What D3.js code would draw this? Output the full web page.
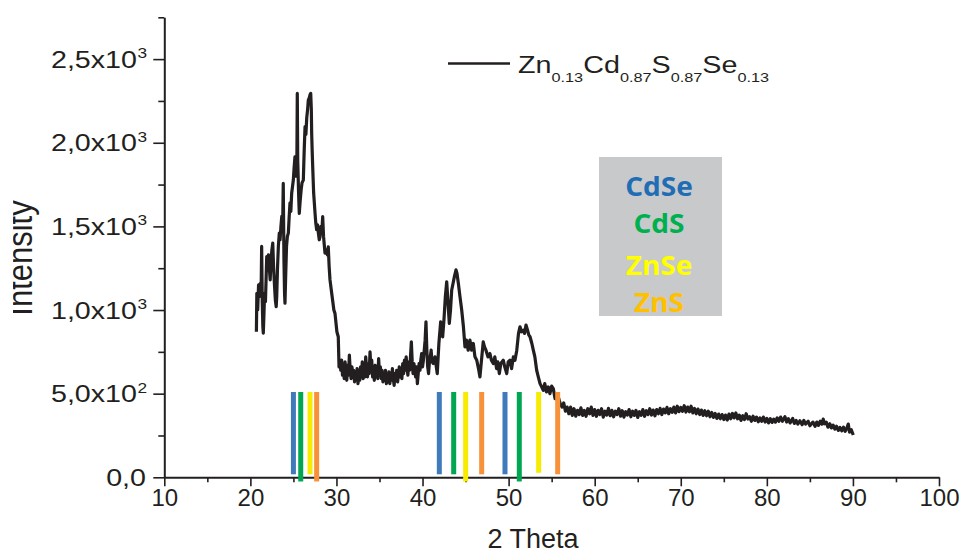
<!DOCTYPE html>
<html><head><meta charset="utf-8">
<script src="https://cdn.jsdelivr.net/npm/d3@7/dist/d3.min.js"></script>
<style>
html,body{margin:0;padding:0;background:#fff;}
svg{display:block;font-family:"Liberation Sans",Arial,sans-serif;}
</style></head>
<body>
<svg id="chart" width="963" height="555"></svg>
<script>
// ---- data ----
const xTicks = [10,20,30,40,50,60,70,80,90,100];
const yTicks = [0,500,1000,1500,2000,2500];
const yTickMant = ["0,0","5,0x10","1,0x10","1,5x10","2,0x10","2,5x10"];
const yTickExp  = ["","2","3","3","3","3"];
const seriesName = ["Zn","0.13","Cd","0.87","S","0.87","Se","0.13"];

const phases = ["CdSe","CdS","ZnSe","ZnS"];
const phaseColors = ["#3f7bba","#00a651","#f7ec00","#f7923a"];
const phaseTextColors = ["#1f6db5","#00b04f","#ffff00","#ffc000"];
const peaksCdSe = [25.0, 41.95, 49.58];
const peaksCdS  = [25.85, 43.62, 51.24];
const peaksZnSe = [26.93, 45.01, 53.49];
const peaksZnS  = [27.7, 46.87, 55.70];
const lowCdSe = [18, 18, 18];
const lowCdS  = [-25, 18, -25];
const lowZnSe = [18, -25, 27];
const lowZnS  = [-25, 18, 18];
const peakTop = 510;

const xrdPattern = [
[20.70,870],[20.75,1100],[20.85,1000],[20.95,1150],[21.05,1080],[21.15,1160],[21.25,1120],[21.31,1380],[21.38,1050],[21.45,900],
[21.50,862],[21.58,980],[21.65,1100],[21.75,1050],[21.90,1320],[22.00,1280],[22.10,1330],[22.20,1250],[22.30,1180],[22.40,1300],
[22.50,1360],[22.60,1400],[22.70,1250],[22.80,1150],[22.90,1060],[23.00,1020],[23.06,1080],[23.15,1250],[23.25,1380],[23.36,1460],
[23.45,1420],[23.55,1500],[23.65,1560],[23.75,1500],[23.82,1757],[23.90,1300],[23.97,1100],[24.02,1041],[24.10,1200],[24.20,1380],
[24.30,1440],[24.41,1460],[24.50,1550],[24.60,1640],[24.70,1590],[24.80,1700],[24.90,1740],[24.99,1777],[25.08,1850],[25.18,1916],
[25.30,1800],[25.40,1880],[25.45,2295],[25.50,1900],[25.60,1700],[25.68,1578],[25.78,1650],[25.90,1720],[26.00,1760],[26.15,1777],
[26.25,1950],[26.35,2096],[26.45,2050],[26.55,2150],[26.65,2200],[26.73,2255],[26.85,2270],[26.95,2290],[27.01,2295],[27.08,2200],
[27.12,2058],[27.18,1950],[27.24,1857],[27.35,1700],[27.51,1580],[27.60,1520],[27.70,1480],[27.80,1510],[27.90,1460],[28.00,1420],
[28.09,1438],[28.20,1500],[28.30,1460],[28.40,1558],[28.50,1440],[28.60,1380],[28.67,1340],[28.80,1360],[28.95,1330],[29.05,1378],
[29.15,1260],[29.25,1180],[29.40,1120],[29.55,1060],[29.70,1000],[29.83,980],[29.95,920],[30.05,870],[30.21,840],[30.30,660],
[30.40,700],[30.50,640],[30.60,700],[30.70,610],[30.80,660],[30.90,590],[31.00,690],[31.10,620],[31.20,580],[31.30,670],
[31.40,610],[31.50,730],[31.60,640],[31.70,590],[31.80,660],[31.90,600],[32.00,640],[32.10,570],[32.20,630],[32.30,590],
[32.40,650],[32.50,560],[32.60,610],[32.70,580],[32.80,660],[32.90,600],[33.00,690],[33.10,590],[33.20,640],[33.30,600],
[33.40,720],[33.50,650],[33.60,600],[33.70,680],[33.80,620],[33.90,750],[34.00,650],[34.10,700],[34.20,600],[34.30,640],
[34.40,580],[34.50,670],[34.60,610],[34.70,650],[34.80,590],[34.90,710],[35.00,620],[35.10,660],[35.20,590],[35.30,640],
[35.40,570],[35.50,620],[35.60,580],[35.70,640],[35.80,560],[35.90,600],[36.00,570],[36.10,630],[36.20,560],[36.30,610],
[36.40,580],[36.50,650],[36.60,590],[36.70,550],[36.80,620],[36.90,580],[37.00,640],[37.10,570],[37.20,610],[37.30,660],
[37.40,600],[37.50,650],[37.60,590],[37.70,680],[37.80,620],[37.90,700],[38.00,640],[38.10,720],[38.20,650],[38.30,610],
[38.40,690],[38.50,640],[38.60,720],[38.70,810],[38.80,690],[38.90,620],[39.00,680],[39.10,640],[39.20,600],[39.30,660],
[39.40,560],[39.50,620],[39.60,680],[39.70,640],[39.80,700],[39.90,740],[40.00,660],[40.10,700],[40.20,760],[40.30,820],
[40.40,930],[40.50,760],[40.60,660],[40.70,620],[40.80,690],[40.90,720],[41.00,760],[41.10,690],[41.25,680],[41.45,720],
[41.60,660],[41.71,620],[41.90,800],
[42.11,930],[42.25,880],[42.34,840],[42.50,950],[42.65,1080],[42.81,1169],[42.95,1050],[43.11,920],[43.25,1000],[43.39,1120],
[43.55,1160],[43.70,1200],[43.89,1240],[44.00,1220],[44.16,1160],[44.35,1080],[44.55,1000],[44.75,900],[44.93,780],[45.10,820],
[45.30,760],[45.51,820],[45.70,760],[45.90,800],[46.09,720],[46.30,700],[46.50,650],[46.67,600],[46.85,700],[47.05,810],
[47.20,780],[47.37,760],[47.60,720],[47.83,740],[48.00,700],[48.22,680],[48.40,720],[48.60,650],[48.75,690],[48.92,620],
[49.10,680],[49.38,700],[49.55,660],[49.78,620],[49.95,690],[50.16,700],[50.35,650],[50.55,720],[50.74,700],[50.95,760],
[51.15,860],[51.32,900],[51.50,870],[51.71,880],[51.85,860],[52.02,910],[52.20,880],[52.35,850],[52.49,840],[52.70,800],
[52.87,760],[53.05,720],[53.26,640],[53.45,600],[53.65,560],[53.85,540],[54.03,520],[54.20,560],[54.40,510],[54.61,540],
[54.80,500],[55.00,545],[55.19,530],[55.40,470],[55.60,500],[55.77,480],[56.00,440],[56.20,420],[56.40,445],[56.60,395],
[56.80,420],[57.00,380],[57.20,420],[57.40,370],[57.60,410],[57.80,365],[58.00,400],[58.20,375],[58.40,415],[58.60,370],
[58.80,400],[59.00,365],[59.20,410],[59.40,380],[59.60,420],[59.80,370],[60.00,405],[60.20,365],[60.40,400],[60.60,375],
[60.80,410],[61.00,360],[61.20,395],[61.40,372],[61.60,412],[61.80,368],[62.00,400],[62.20,362],[62.40,395],[62.60,375],
[62.80,410],[63.00,365],[63.20,398],[63.40,360],[63.60,392],[63.80,372],[64.00,405],[64.20,362],[64.40,395],[64.60,370],
[64.80,400],[65.00,358],[65.20,392],[65.40,370],[65.60,405],[65.80,365],[66.00,398],[66.20,375],[66.40,410],[66.60,372],
[66.80,402],[67.00,368],[67.20,405],[67.40,380],[67.60,412],[67.80,375],[68.00,408],[68.20,385],[68.40,418],[68.60,380],
[68.80,410],[69.00,388],[69.20,420],[69.40,385],[69.60,425],[69.80,392],[70.00,418],[70.20,395],[70.40,428],[70.60,390],
[70.80,420],[71.00,392],[71.20,425],[71.40,385],[71.60,412],[71.80,380],[72.00,408],[72.20,375],[72.40,402],[72.60,370],
[72.80,398],[73.00,368],[73.20,395],[73.40,362],[73.60,388],[73.80,358],[74.00,382],[74.20,352],[74.40,378],[74.60,350],
[74.80,375],[75.00,345],[75.20,372],[75.40,342],[75.60,378],[75.80,350],[76.00,382],[76.20,355],[76.40,385],[76.60,350],
[76.80,372],[77.00,340],[77.20,368],[77.40,345],[77.60,380],[77.80,348],[78.00,362],[78.20,335],[78.40,365],[78.60,340],
[78.80,360],[79.00,332],[79.20,355],[79.40,335],[79.60,360],[79.80,330],[80.00,352],[80.20,325],[80.40,350],[80.60,328],
[80.80,348],[81.00,330],[81.20,355],[81.40,335],[81.60,360],[81.80,335],[82.10,362],[82.30,330],[82.50,350],[82.70,325],
[83.00,352],[83.20,322],[83.40,340],[83.60,318],[83.84,338],[84.10,315],[84.30,340],[84.50,318],[84.80,335],[85.00,308],
[85.35,330],[85.60,305],[85.80,330],[86.00,310],[86.20,335],[86.40,318],[86.55,348],[86.70,320],[86.90,330],[87.10,300],
[87.32,320],[87.50,295],[87.70,312],[87.90,288],[88.10,305],[88.30,280],[88.49,298],[88.70,278],[88.90,300],[89.10,275],
[89.30,295],[89.46,318],[89.60,270],[89.80,285],[90.04,253]
];

// ---- chart ----
const svg = d3.select("#chart");
const x = d3.scaleLinear().domain([10,100]).range([164.3,939]);
const y = d3.scaleLinear().domain([0,2750]).range([477.3,17.3]);

svg.append("defs").append("clipPath").attr("id","leftclip")
  .append("rect").attr("x",13).attr("y",0).attr("width",950).attr("height",555);

// y axis
const yAxisMinor = d3.axisLeft(y).tickValues(d3.range(250,2751,500)).tickSize(6).tickFormat("");
const gyMinor = svg.append("g").attr("transform","translate(164.3,0)").call(yAxisMinor);
gyMinor.select(".domain").remove();
const yAxis = d3.axisLeft(y).tickValues(yTicks).tickSize(11).tickSizeOuter(0).tickFormat("");
const gy = svg.append("g").attr("transform","translate(164.3,0)").call(yAxis);
gy.select(".domain").attr("stroke","#231f20").attr("stroke-width",2);

// y tick labels
yTicks.forEach((v,i)=>{
  const g = svg.append("g").attr("transform",`translate(${yTickExp[i]? 137:146},${y(v)+8.5}) scale(1.17,1)`);
  g.append("text").attr("text-anchor","end").attr("font-size",24.5).attr("fill","#231f20").text(yTickMant[i]);
  if (yTickExp[i]) {
    svg.append("g").attr("transform",`translate(137.5,${y(v)-1}) scale(1.15,1)`)
      .append("text").attr("font-size",15).attr("fill","#231f20").text(yTickExp[i]);
  }
});

// x axis
const xAxisMinor = d3.axisBottom(x).tickValues(d3.range(15,100,10)).tickSize(5).tickFormat("");
const gxMinor = svg.append("g").attr("transform","translate(0,477.3)").call(xAxisMinor);
gxMinor.select(".domain").remove();
const xAxis = d3.axisBottom(x).tickValues(xTicks).tickSize(9).tickSizeOuter(0).tickFormat(d3.format("d"));
const gx = svg.append("g").attr("transform","translate(0,477.3)").call(xAxis);
gx.select(".domain").attr("stroke","#231f20").attr("stroke-width",2);
svg.selectAll(".tick line").attr("stroke","#231f20").attr("stroke-width",1.6);
gx.selectAll(".tick text").attr("font-size",24).attr("fill","#231f20").attr("y",12).attr("dy","0.71em")
  .attr("font-family","'Liberation Sans',Arial,sans-serif");

// axis titles
svg.append("text").attr("x",533).attr("y",548).attr("text-anchor","middle")
  .attr("font-size",27).attr("fill","#231f20").text("2 Theta");
svg.append("g").attr("clip-path","url(#leftclip)")
  .append("text").attr("transform","translate(32,258) scale(1.15,1) rotate(-90)").attr("text-anchor","middle")
  .attr("font-size",31).attr("fill","#231f20").text("Intensity");

// pattern line
const line = d3.line().x(d=>x(d[0])).y(d=>y(d[1]));
svg.append("path").datum(xrdPattern).attr("d",line)
  .attr("fill","none").attr("stroke","#231f20").attr("stroke-width",3.2).attr("stroke-linejoin","round");

// reference bars
const peakSets = [peaksCdSe,peaksCdS,peaksZnSe,peaksZnS];
const lowSets = [lowCdSe,lowCdS,lowZnSe,lowZnS];
phases.forEach((p,i)=>{
  svg.append("g").selectAll("rect").data(peakSets[i]).join("rect")
    .attr("x",(d)=>x(d)-2.5).attr("width",5)
    .attr("y",y(peakTop)).attr("height",(d,j)=>y(lowSets[i][j])-y(peakTop))
    .attr("fill",phaseColors[i]);
});

// legend
svg.append("line").attr("x1",448).attr("x2",510).attr("y1",63.5).attr("y2",63.5)
  .attr("stroke","#231f20").attr("stroke-width",2.5);
const lg = svg.append("g").attr("transform","translate(518,73.3) scale(1.25,1)");
const lt = lg.append("text").attr("font-size",23).attr("fill","#231f20");
seriesName.forEach((s,i)=>{
  if (i%2===0) lt.append("tspan").attr("font-size",23).attr("dy", i===0?0:-8.4).text(s);
  else lt.append("tspan").attr("font-size",13).attr("dy",8.4).text(s);
});

// phase box
svg.append("rect").attr("x",599).attr("y",157).attr("width",123).attr("height",159).attr("fill","#c8c9cb");
const boxY = [196,233,275,312];
phases.forEach((p,i)=>{
  svg.append("g").attr("transform",`translate(659,${boxY[i]}) scale(1.08,1)`)
    .append("text").attr("text-anchor","middle")
    .attr("font-family","'Open Sans',sans-serif").attr("font-weight","bold").attr("font-size",26)
    .attr("fill",phaseTextColors[i]).text(p);
});
</script>
</body></html>
